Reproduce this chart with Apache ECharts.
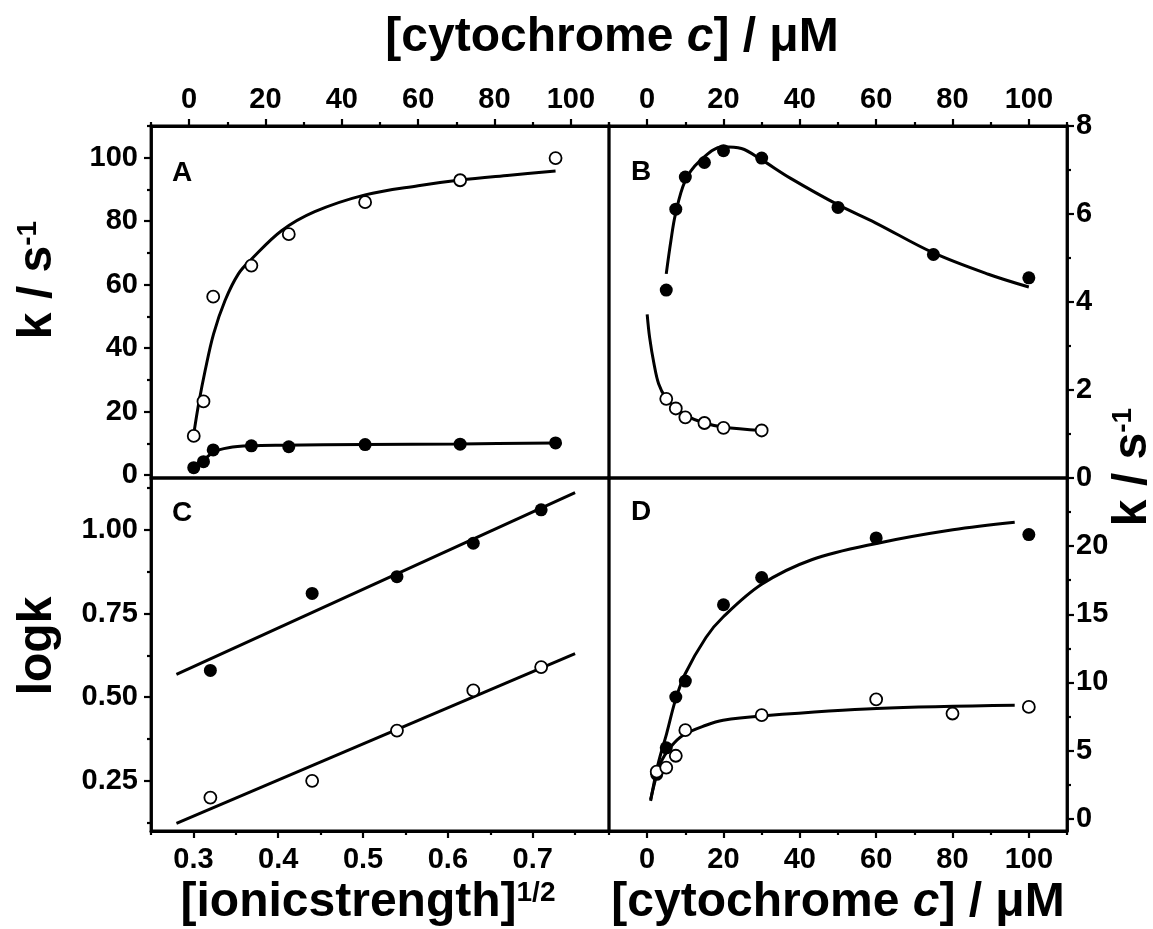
<!DOCTYPE html>
<html>
<head>
<meta charset="utf-8">
<title>cytochrome c kinetics</title>
<script src="https://cdn.jsdelivr.net/npm/echarts@6.0.0/dist/echarts.min.js"></script>
<style>
  html, body { margin: 0; padding: 0; background: #fff; }
  #main { width: 1153px; height: 929px; }
</style>
</head>
<body>
<div id="main"></div>
<script>
// panel A  (x: [cytochrome c] / uM, y: k / s-1)
const aX = [1.2, 3.75, 6.3, 16.3, 26.1, 46.1, 71, 96];
const aOpenY = [12.3, 23.2, 56.2, 66, 75.9, 86, 92.9, 99.9];
const aFilledY = [2.3, 4.2, 7.9, 9.2, 8.9, 9.6, 9.7, 10.1];
const aOpenFitX = [1.15, 2.5, 4.2, 6.4, 9.4, 12.9, 16.3, 24.2, 32.9, 46.1, 60, 71, 84, 96];
const aOpenFitY = [12.5, 22.5, 33, 44.5, 55, 63.4, 68, 77, 83, 88.3, 91.2, 93, 94.5, 95.8];
const aFilledFitX = [1.15, 3.8, 6.4, 10.3, 16, 24.2, 46, 71, 96];
const aFilledFitY = [2.6, 4.7, 7.3, 8.6, 9.2, 9.4, 9.6, 9.8, 10.1];

// panel B
const bX = [5, 7.5, 10, 15, 20, 30, 50, 75, 100];
const bFilledY = [4.27, 6.11, 6.84, 7.17, 7.44, 7.27, 6.15, 5.08, 4.55];
const bOpenX = [5, 7.5, 10, 15, 20, 30];
const bOpenY = [1.80, 1.58, 1.38, 1.25, 1.14, 1.08];
const bFilledFitX = [5, 6.2, 7.4, 9.9, 13.6, 19.9, 24.7, 30, 37.6, 50.2, 59.8, 74.9, 89.4, 100];
const bFilledFitY = [4.64, 5.38, 5.99, 6.74, 7.19, 7.53, 7.49, 7.23, 6.81, 6.2, 5.8, 5.12, 4.63, 4.34];
const bOpenFitX = [0, 0.65, 1.8, 3.0, 4.8, 7.4, 9.9, 15, 19.9, 30];
const bOpenFitY = [3.72, 3.19, 2.59, 2.14, 1.83, 1.60, 1.43, 1.25, 1.16, 1.08];

// panel C  (x: [ionic strength]^1/2, y: log k)
const cX = [0.32, 0.44, 0.54, 0.63, 0.71];
const cFilledY = [0.58, 0.81, 0.86, 0.96, 1.06];
const cOpenY = [0.20, 0.25, 0.40, 0.52, 0.59];
const cFitX = [0.28, 0.75];
const cFilledFitY = [0.568, 1.111];
const cOpenFitY = [0.123, 0.630];

// panel D
const dX = [2.5, 5, 7.5, 10, 20, 30, 60, 100];
const dFilledY = [3.26, 5.2, 8.93, 10.1, 15.7, 17.7, 20.6, 20.85];
const dOpenX = [2.5, 5, 7.5, 10, 30, 60, 80, 100];
const dOpenY = [3.45, 3.75, 4.62, 6.5, 7.6, 8.76, 7.72, 8.2];
const dFilledFitX = [0.9, 2.9, 5.1, 7.4, 9.9, 15.4, 19.9, 30, 43.1, 60.1, 80.1, 96.3];
const dFilledFitY = [1.31, 4.06, 6.25, 8.7, 10.6, 13.3, 14.8, 17.2, 19.0, 20.2, 21.2, 21.75];
const dOpenFitX = [0.9, 2.2, 3.4, 6.2, 9.4, 15.4, 19.9, 30, 60.1, 96.3];
const dOpenFitY = [1.4, 2.9, 4.06, 5.28, 6.13, 6.86, 7.23, 7.54, 8.08, 8.32];

// tick values
const concTicks = [0, 20, 40, 60, 80, 100];
const concMinor = [-10, 10, 30, 50, 70, 90, 110];
const aYTicks = [0, 20, 40, 60, 80, 100];
const aYMinor = [10, 30, 50, 70, 90, 110];
const bYTicks = [0, 2, 4, 6, 8];
const bYMinor = [1, 3, 5, 7];
const cXTicks = [0.3, 0.4, 0.5, 0.6, 0.7];
const cXMinor = [0.25, 0.35, 0.45, 0.55, 0.65, 0.75];
const cYTicks = [0.25, 0.5, 0.75, 1.0];
const cYMinor = [0.125, 0.375, 0.625, 0.875, 1.125];
const dYTicks = [0, 5, 10, 15, 20];
const dYMinor = [2.5, 7.5, 12.5, 17.5, 22.5];

const FONT = '"Liberation Sans", Arial, sans-serif';

function pairs(xs, ys) {
    return xs.map((x, i) => [x, ys[i]]);
}

// one axis carrying the major ticks + labels, a second one with the short minor ticks
function axisPair(grid, pos, min, max, major, minor, margin, fmt) {
    const base = {
        type: 'value', gridIndex: grid, position: pos, min: min, max: max,
        splitLine: { show: false }
    };
    const main = Object.assign({}, base, {
        axisLine: { show: true, onZero: false, lineStyle: { color: '#000', width: 2.8 } },
        axisTick: { show: true, customValues: major, length: 7, lineStyle: { color: '#000', width: 2.2 } },
        axisLabel: {
            show: true, customValues: major, margin: margin, formatter: fmt,
            color: '#000', fontSize: 29, fontWeight: 'bold', fontFamily: FONT
        }
    });
    const small = Object.assign({}, base, {
        axisLine: { show: false, onZero: false },
        axisTick: { show: true, customValues: minor, length: 4, lineStyle: { color: '#000', width: 2.2 } },
        axisLabel: { show: false }
    });
    return [main, small];
}

const xAxes = [].concat(
    axisPair(0, 'top', -10, 110, concTicks, concMinor, 12),
    axisPair(1, 'top', -10, 110, concTicks, concMinor, 12),
    axisPair(2, 'bottom', 0.25, 0.79, cXTicks, cXMinor, 14, v => v.toFixed(1)),
    axisPair(3, 'bottom', -10, 110, concTicks, concMinor, 14)
);
const yAxes = [].concat(
    axisPair(0, 'left', -0.95, 110, aYTicks, aYMinor, 13),
    axisPair(1, 'right', 0, 8, bYTicks, bYMinor, 9),
    axisPair(2, 'left', 0.1, 1.155, cYTicks, cYMinor, 13, v => v.toFixed(2)),
    axisPair(3, 'right', -0.9, 25, dYTicks, dYMinor, 9)
);

function fit(axis, xs, ys, smooth) {
    return {
        type: 'line', xAxisIndex: axis, yAxisIndex: axis, data: pairs(xs, ys),
        smooth: smooth, showSymbol: false, silent: true, z: 2,
        lineStyle: { color: '#000', width: 3 }
    };
}
function dots(axis, xs, ys, open) {
    return {
        type: 'scatter', xAxisIndex: axis, yAxisIndex: axis, data: pairs(xs, ys),
        symbol: 'circle', symbolSize: open ? 12 : 13, z: 3, silent: true,
        itemStyle: open
            ? { color: '#fff', borderColor: '#000', borderWidth: 1.8, opacity: 1 }
            : { color: '#000', opacity: 1 }
    };
}

const grids = [
    { left: 151, top: 126, width: 458, height: 352 },
    { left: 609, top: 126, width: 458, height: 352 },
    { left: 151, top: 478, width: 458, height: 353 },
    { left: 609, top: 478, width: 458, height: 353 }
].map(g => Object.assign(g, { show: true, borderColor: '#000', borderWidth: 2.8, outerBoundsMode: 'none' }));

function label(text, x, y) {
    return {
        type: 'text', x: x, y: y, silent: true,
        style: { text: text, fill: '#000', font: 'bold 28px ' + FONT, align: 'left', verticalAlign: 'middle' }
    };
}
const richTitle = {
    t: { fontSize: 48, fontWeight: 'bold', fontFamily: FONT },
    i: { fontSize: 48, fontWeight: 'bold', fontStyle: 'italic', fontFamily: FONT },
    sup: { fontSize: 28, fontWeight: 'bold', fontFamily: FONT, verticalAlign: 'top' }
};
function title(text, x, y, rot) {
    return {
        type: 'text', x: x, y: y, rotation: rot || 0, silent: true,
        style: {
            text: text, fill: '#000', font: 'bold 48px ' + FONT,
            align: 'center', verticalAlign: 'middle', rich: richTitle
        }
    };
}

const chart = echarts.init(document.getElementById('main'), null, { renderer: 'canvas' });
chart.setOption({
    backgroundColor: '#fff',
    animation: false,
    grid: grids,
    xAxis: xAxes,
    yAxis: yAxes,
    series: [
        fit(0, aOpenFitX, aOpenFitY, 0.35),
        fit(0, aFilledFitX, aFilledFitY, 0.35),
        dots(0, aX, aOpenY, true),
        dots(0, aX, aFilledY, false),

        fit(2, bFilledFitX, bFilledFitY, 0.35),
        fit(2, bOpenFitX, bOpenFitY, 0.35),
        dots(2, bX, bFilledY, false),
        dots(2, bOpenX, bOpenY, true),

        fit(4, cFitX, cFilledFitY, false),
        fit(4, cFitX, cOpenFitY, false),
        dots(4, cX, cFilledY, false),
        dots(4, cX, cOpenY, true),

        fit(6, dFilledFitX, dFilledFitY, 0.35),
        fit(6, dOpenFitX, dOpenFitY, 0.35),
        dots(6, dX, dFilledY, false),
        dots(6, dOpenX, dOpenY, true)
    ],
    graphic: [
        label('A', 172, 173),
        label('B', 631, 172),
        label('C', 172, 513),
        label('D', 631, 512),
        title('{t|[cytochrome }{i|c}{t|] / μM}', 612, 38),
        title('{t|[ionicstrength]}{sup|1/2}', 368, 903),
        title('{t|[cytochrome }{i|c}{t|] / μM}', 838, 903),
        title('{t|k / s}{sup|-1}', 38, 280, Math.PI / 2),
        title('{t|logk}', 38, 646, Math.PI / 2),
        title('{t|k / s}{sup|-1}', 1133, 467, Math.PI / 2)
    ]
});
</script>
</body>
</html>
